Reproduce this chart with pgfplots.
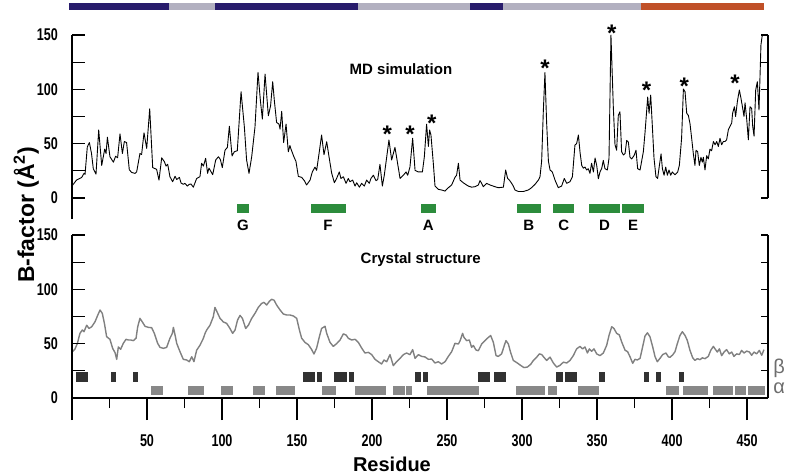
\documentclass[border=0pt]{standalone}
\usepackage{fontspec}
\setmainfont{Liberation Sans}
\newfontfamily\narrowfam[FakeStretch=0.74]{Liberation Sans}
\usepackage{pgfplots}
\pgfplotsset{compat=1.18}
\usetikzlibrary{plotmarks}
\definecolor{navyc}{RGB}{40,28,108}
\definecolor{lgrayc}{RGB}{178,176,192}
\definecolor{orangec}{RGB}{192,80,40}
\definecolor{greenc}{RGB}{44,140,60}
\definecolor{betac}{RGB}{50,50,50}
\definecolor{alphac}{RGB}{136,136,136}
\definecolor{curvec}{RGB}{128,128,128}
\definecolor{labc}{RGB}{110,110,110}
\newcommand{\rect}[5]{\addplot[fill=#5, draw=none, forget plot] coordinates {(#1,#3) (#2,#3) (#2,#4) (#1,#4)};}
\pgfplotsset{
 panel/.style={scale only axis, width=696pt, xmin=0, xmax=464, anchor=south west, clip=false,
   axis line style={line width=1.1pt, black},
   every tick/.style={line width=1.1pt, black},
   tick label style={font=\narrowfam\bfseries\fontsize{17}{17}\selectfont},
   /pgf/number format/assume math mode=true},
 lefty/.style={axis y line*=left, axis x line=none, xtick=\empty, ytick={0,50,100,150}, minor ytick={25,75,125},
   tick align=inside, major tick length=13pt, minor tick length=13pt,
   yticklabel style={anchor=east, inner sep=0pt, xshift=-14pt}},
 righty/.style={axis y line*=right, axis x line=none, xtick=\empty, ytick={0,25,...,150}, yticklabels={},
   tick align=inside, major tick length=7pt},
}
\begin{document}
\begin{tikzpicture}
\path[use as bounding box] (0pt,0pt) rectangle (790pt,475pt);
% ---------------- top panel ----------------
\begin{axis}[panel, lefty, at={(72pt,256pt)}, height=184pt, ymin=-19.3, ymax=150]
\rect{-2}{64.5}{173}{179.4}{navyc}
\rect{64.5}{95.5}{173}{179.4}{lgrayc}
\rect{95.5}{190.4}{173}{179.4}{navyc}
\rect{190.4}{265}{173}{179.4}{lgrayc}
\rect{265}{287.4}{173}{179.4}{navyc}
\rect{287.4}{379.3}{173}{179.4}{lgrayc}
\rect{379.3}{461.3}{173}{179.4}{orangec}
\rect{110.2}{117.8}{-13.5}{-5.5}{greenc}
\rect{159}{182.4}{-13.5}{-5.5}{greenc}
\rect{232.7}{242.4}{-13.5}{-5.5}{greenc}
\rect{296.7}{312.4}{-13.5}{-5.5}{greenc}
\rect{320.9}{334.7}{-13.5}{-5.5}{greenc}
\rect{344.7}{365.3}{-13.5}{-5.5}{greenc}
\rect{366.9}{381.1}{-13.5}{-5.5}{greenc}
\addplot[black, line width=0.9pt, line join=round] coordinates {
(0.5,12) (3,16.5) (6.5,19) (8,22.7) (8.7,21.8) (10.2,47) (11.6,51) (13,41) (14.2,27) (16,22)
(17.8,62.6) (19.8,30) (21.8,45) (22.7,41) (23.6,56) (25.3,38) (27.6,33) (29.1,38.5) (30.4,37) (32,59)
(33.6,41) (34.9,52) (36.4,51) (38.2,26) (39.8,23.5) (42,22.7) (43.1,24) (45.3,41) (46.4,40) (48,60)
(49.8,45.7) (51.8,82) (53.8,28) (56.4,26.4) (58,16.5) (59.8,37) (61.6,33.4) (62.7,29.4) (63.8,31) (65.3,19.6)
(67.1,15) (68.7,20) (69.8,17) (71.6,19) (72.7,13.8) (74.2,12.6) (75.3,13.5) (76.9,11) (78.2,12.6) (79.3,12.9)
(80.9,10) (83.1,18) (85.3,19.6) (86.4,32) (87.6,29.4) (89.1,36.5) (90.4,22.7) (91.3,27.5) (93.8,21.5) (95.8,35)
(97.6,38) (98.9,35.5) (100.2,28) (102,44) (103.6,46.6) (104.9,66) (106.7,38.7) (108.2,42.6) (110.2,43.5) (112.7,97.8)
(114.9,65.5) (116.4,35) (118,22.7) (119.8,38) (122,65.5) (124,115.6) (125.6,89.6) (126.9,72.6) (128.7,114) (130.9,75.7)
(132.4,85) (133.8,107) (134.9,89.6) (136.4,69.5) (138,68) (138.7,63.4) (139.8,79.7) (141.1,51) (142.7,68) (144.2,42.6)
(145.3,48.3) (146,45) (147.8,38.4) (149.3,33.7) (150.9,19.9) (153.1,19) (154.9,16) (156.4,12) (158.7,16.5) (160.2,24)
(162,28.5) (163.1,25.5) (164.7,41) (166.4,58) (168,39.9) (169.8,51.8) (171.3,38.4) (173.1,23) (174.9,14.1) (176.4,18)
(178.2,24) (179.3,18) (180.9,19.6) (182.7,13.5) (184.2,18) (185.3,15) (187.1,16.5) (188.7,11) (189.8,14) (191.6,10)
(193.1,13.5) (194.9,11) (196.4,16.5) (198.2,13.5) (199.3,18) (200.9,21) (202.7,16) (203.8,17) (205.3,31) (206.9,11)
(208.2,21) (211.3,53.4) (213.1,35) (215.3,46.6) (217.1,31.6) (218.7,18) (220.9,21) (222.7,24) (223.8,21) (225.3,28.5)
(227.1,55) (228.7,25.5) (230.9,24) (233.6,24) (234.9,38) (236.4,68) (237.6,47.5) (238.4,62.6) (239.3,58) (240.9,31.6)
(242,11) (244.2,8) (246.4,7.4) (248.7,6.4) (250.9,9.5) (253.1,12) (255.3,19) (256.4,21) (257.6,32) (258.7,16.5)
(260.9,14) (263.1,12) (264.2,11) (266.4,10) (268.7,10.4) (270.9,12) (272,16) (273.1,13.5) (274.2,10.4) (276.4,13.5)
(278.7,12) (282,10.4) (284.2,9.5) (287.6,10) (289.1,25.8) (290.4,18) (291.6,16.5) (293.1,13.5) (294.2,11) (295.3,7.4)
(297.6,6) (300.9,6) (304.2,7.4) (306.4,9.5) (308.7,12.6) (310.9,16.5) (312,19.6) (313.1,34) (314.2,79.4) (315.3,115.4)
(316.4,70) (317.6,34) (318.7,25.8) (320.2,24) (322,16.5) (324.2,9.5) (326.4,11) (328.2,18) (329.8,13.5) (332,15)
(333.6,19.6) (335.3,48.8) (336.4,50) (337.6,58) (338.7,42) (339.8,30) (340.9,27.5) (342,28.5) (343.1,25.8) (344.2,27)
(345.3,22.7) (346.4,32) (347.6,24) (348.7,36.8) (349.8,30) (350.9,17.7) (352,24) (353.1,27) (354.2,34.6) (355.3,27)
(356.9,25.8) (358,36.5) (359.3,150) (360.9,82.8) (362,49) (363.1,44) (364.2,76) (365.3,79.4) (366.4,42.6) (367.6,39.6)
(368.7,41) (369.8,53) (370.9,51.5) (372,37.5) (373.1,36) (374.7,39) (376,44) (377.1,27) (378.7,25.8) (380.9,42.6)
(382,60) (383.8,93) (384.7,78) (385.8,94.7) (386.9,66) (388,36.8) (389.3,19.6) (390.4,18) (391.6,30) (392.7,40.6)
(393.6,27) (394.7,21) (395.8,28.5) (396.9,21) (398,25.8) (399.1,21) (400.2,24) (402,21.5) (403.8,24) (404.9,30)
(406.4,55) (407.6,100.3) (408.7,97.8) (409.8,78) (410.9,76) (412,68.5) (413.1,55) (414.2,41) (415.3,30) (416,44)
(417.1,42.6) (418.2,30) (419.3,37.5) (420.2,33) (420.9,37.5) (422,25.8) (423.1,39) (424.2,36) (425.3,45) (426.4,43.5)
(427.6,52) (428.7,49) (429.8,52) (430.9,47.5) (432,55) (433.1,49) (434.2,52) (435.3,52) (436.4,53.5) (437.6,63)
(438.7,66) (439.8,69) (440.4,78) (441.6,84) (442.4,75) (443.6,89) (444.9,99.4) (446,91.6) (447.1,82.8) (448,75)
(448.7,87.6) (449.8,72.6) (450.9,53.5) (452,84) (453.1,82.5) (453.8,66) (454.7,57) (455.8,99.4) (456.9,107) (458,81)
(459.3,141) (460.2,150)
};
\addplot[only marks, mark=text, text mark={*}, text mark as node=true,
  text mark style={font=\bfseries\fontsize{24}{24}\selectfont, yshift=-5pt, inner sep=0pt}] coordinates {
(210.2,63.5) (225.3,63.5) (239.8,73.3) (315.3,124) (359.8,156.1) (383.1,104) (408.2,107.6) (442,110.1)
};
\node[font=\bfseries\fontsize{15}{15}\selectfont] at (axis cs:219.3,118.7) {MD simulation};
\begin{scope}[every node/.style={font=\bfseries\fontsize{15}{15}\selectfont}]
\node at (axis cs:114,-24.8) {G};
\node at (axis cs:170.7,-24.8) {F};
\node at (axis cs:237.5,-24.8) {A};
\node at (axis cs:304.5,-24.8) {B};
\node at (axis cs:327.8,-24.8) {C};
\node at (axis cs:355,-24.8) {D};
\node at (axis cs:374,-24.8) {E};
\end{scope}
\node[rotate=90, font=\bfseries\fontsize{23}{23}\selectfont] at (axis cs:-30.5,-15.6) {B-factor (Å\textsuperscript{2})};
\end{axis}
\begin{axis}[panel, righty, at={(72pt,277pt)}, height=163pt, ymin=0, ymax=150]
\end{axis}
% ---------------- bottom panel ----------------
\begin{axis}[panel, at={(72pt,77pt)}, height=163pt, ymin=0, ymax=150,
  axis x line*=bottom, axis y line=none, ytick=\empty,
  xtick={0,50,...,450}, xticklabels={,50,100,150,200,250,300,350,400,450},
  xticklabel style={yshift=-11pt},
  minor xtick={25,75,...,425}, tick align=outside, major tick length=22pt, minor tick length=10pt]
\rect{2.4}{10.4}{15}{23.6}{betac}
\rect{25.8}{29.3}{15}{23.6}{betac}
\rect{40.7}{44.2}{15}{23.6}{betac}
\rect{154.2}{162}{15}{23.6}{betac}
\rect{163.6}{166.9}{15}{23.6}{betac}
\rect{174.9}{183.1}{15}{23.6}{betac}
\rect{184.4}{188}{15}{23.6}{betac}
\rect{228.9}{232.7}{15}{23.6}{betac}
\rect{233.8}{237.3}{15}{23.6}{betac}
\rect{270.9}{278.9}{15}{23.6}{betac}
\rect{281.3}{289.3}{15}{23.6}{betac}
\rect{322.4}{327.3}{15}{23.6}{betac}
\rect{328.7}{336.4}{15}{23.6}{betac}
\rect{351.6}{355.3}{15}{23.6}{betac}
\rect{381.3}{384.7}{15}{23.6}{betac}
\rect{389.1}{392.4}{15}{23.6}{betac}
\rect{404.4}{408}{15}{23.6}{betac}
\rect{52.4}{60.4}{2.8}{11}{alphac}
\rect{77.6}{88}{2.8}{11}{alphac}
\rect{99.1}{107.1}{2.8}{11}{alphac}
\rect{120.9}{128.7}{2.8}{11}{alphac}
\rect{136}{148.9}{2.8}{11}{alphac}
\rect{166.7}{176}{2.8}{11}{alphac}
\rect{188.7}{209.1}{2.8}{11}{alphac}
\rect{214.2}{222}{2.8}{11}{alphac}
\rect{222.7}{226.4}{2.8}{11}{alphac}
\rect{236.4}{271.6}{2.8}{11}{alphac}
\rect{296}{315.6}{2.8}{11}{alphac}
\rect{317.6}{323.3}{2.8}{11}{alphac}
\rect{337.3}{351.6}{2.8}{11}{alphac}
\rect{396}{404.7}{2.8}{11}{alphac}
\rect{407.1}{424.2}{2.8}{11}{alphac}
\rect{427.1}{440.4}{2.8}{11}{alphac}
\rect{441.8}{449.3}{2.8}{11}{alphac}
\rect{450.7}{462}{2.8}{11}{alphac}
\addplot[curvec, line width=1.4pt, line join=round] coordinates {
(0.2,42.6) (1.9,44.8) (3.6,50.3) (5.3,59.5) (6.9,62.6) (8,61) (9.8,67) (11.3,64) (13.1,65.5) (15.3,70)
(17.1,76) (18.7,81) (20.2,77.9) (21.6,68.7) (23.1,56.4) (25.3,54) (27.1,45.7) (28.7,41.7) (29.8,35.6) (30.9,47)
(32.4,44.8) (34.2,50.3) (36,54) (37.6,53.4) (39.1,53.4) (40.9,52.8) (42.7,55) (43.8,65.5) (45.3,73.3) (46.9,70)
(48.7,66) (50.9,65) (53.1,64.7) (54.9,59.5) (57.1,50.3) (58.7,46.6) (60.9,45.7) (63.1,46.6) (65.3,55) (66.9,59.5)
(67.6,65) (68.7,58) (69.8,50.3) (72,42.6) (74.2,35.6) (76.4,35) (78.2,33.4) (79.8,38) (81.3,33.4) (83.1,44)
(85.3,48.5) (87.6,55) (88.7,59.5) (89.8,62.6) (92,67) (94.2,74.8) (95.3,83.4) (96.9,78.6) (98.7,73.3) (100.9,70)
(103.1,68.7) (105.3,64) (107.1,59.5) (108.7,62.6) (110.4,71.8) (112,76) (113.6,73.3) (115.8,64) (117.6,67) (119.8,73.3)
(122,77.9) (124.2,83.4) (126.4,87) (128,88) (129.8,85.6) (131.6,89) (133.1,90.8) (134.7,90) (136.4,85.6) (138.7,81)
(140.9,77.3) (143.1,76.4) (145.3,76.4) (147.6,75.5) (149.8,73.3) (151.6,62.6) (153.1,55) (155.3,51.2) (157.6,49) (159.8,44.5)
(161.3,40.5) (163.1,46) (164.9,56.4) (166.4,64) (168.7,66) (169.8,59.5) (172,51.2) (174.2,47.5) (176.4,50) (178.7,53.4)
(180.9,59) (182.7,58) (184.2,55) (186.4,53.4) (188.7,54) (190.9,51.2) (193.1,46) (195.3,41.4) (197.6,42) (199.8,39.9)
(202,35.6) (204.2,33.4) (206.4,31.3) (208,35) (209.8,33.4) (212,39.9) (214.2,29.8) (216.4,33.4) (218.7,36.5) (220.9,39.9)
(223.1,41.4) (225.3,39.9) (227.1,44.5) (228.7,36.5) (230.9,39.9) (233.1,38.3) (235.3,37.8) (237.6,35.6) (239.8,35.8) (242,32.2)
(244.2,33.4) (246.4,31.3) (248.7,33.4) (250.9,38.3) (253.1,42.6) (255.3,50.3) (257.6,49.7) (258.7,52.6) (260.4,59.5) (261.3,55.8)
(263.1,52.8) (264.9,53.4) (266.4,46.6) (267.6,48.3) (269.3,44.2) (270.9,43.5) (273.1,49.7) (275.3,52.8) (277.6,55.8) (279.1,57.5)
(280.9,51.2) (282.7,39) (284.2,38.3) (286.4,40.6) (288.2,48.3) (289.3,52.8) (290.9,49.7) (292.4,42) (294.2,34.6) (296.9,32.2)
(299.1,30) (301.3,28) (303.6,28.5) (305.8,31) (307.6,34.6) (309.8,37.6) (311.6,40.6) (313.1,40) (314.9,37) (316.4,34.6)
(318.7,37.6) (320.9,32.2) (323.1,28.5) (325.3,30) (327.6,33) (329.8,32.2) (332,34.6) (334.2,39) (336.4,45.2) (338.7,47.5)
(340.4,45.2) (342,47) (343.6,41.4) (344.9,45.2) (346.4,43) (348,45.2) (349.8,40.6) (352,39) (354.2,41.4) (356.4,48.3)
(358,57.5) (359.8,65.6) (361.3,64) (363.1,59.5) (364.9,58) (366.4,51.8) (368.7,44) (370.4,42.6) (372,38) (373.8,31.9)
(375.3,35.6) (376.9,35) (378.7,36.5) (380.2,45.7) (382,57) (383.6,60) (385.3,56.4) (387.1,47.2) (388.7,38) (390.2,33.4)
(392,36.5) (393.8,40) (396,41.4) (397.6,37.8) (398.7,37.5) (400.4,39.6) (402,42.6) (403.6,50.3) (405.3,57.5) (406.9,61)
(408.7,57.5) (410.2,53) (412,43.8) (413.8,37) (415.3,34.6) (416.9,36.2) (418.7,35.3) (420.2,37) (422,36.2) (424.2,38.3)
(425.8,43.8) (427.6,47.5) (428.7,45.2) (430.2,42.3) (431.6,45.2) (433.1,39) (434.7,42.3) (436.4,44.5) (438.2,40.6) (439.8,42.3)
(441.3,38.3) (443.1,40.6) (444.9,40) (446.4,43.8) (448,41.4) (449.8,43.2) (451.6,42.3) (453.1,39.3) (454.7,42.3) (456.4,40.6)
(458.2,43.8) (459.8,39.3) (461.3,44.5)
};
\node[font=\bfseries\fontsize{15}{15}\selectfont] at (axis cs:232.5,127) {Crystal structure};
\node[anchor=base west, text=labc, font=\fontsize{20}{20}\selectfont, inner sep=0pt] at (axis cs:467.5,23) {β};
\node[anchor=base west, text=labc, font=\fontsize{20}{20}\selectfont, inner sep=0pt] at (axis cs:467.5,4.1) {α};
\node[font=\bfseries\fontsize{20}{20}\selectfont] at (axis cs:213.3,-61) {Residue};
\end{axis}
\begin{axis}[panel, lefty, at={(72pt,77pt)}, height=163pt, ymin=0, ymax=150]
\end{axis}
\begin{axis}[panel, righty, at={(72pt,77pt)}, height=163pt, ymin=0, ymax=150]
\end{axis}
\end{tikzpicture}
\end{document}
